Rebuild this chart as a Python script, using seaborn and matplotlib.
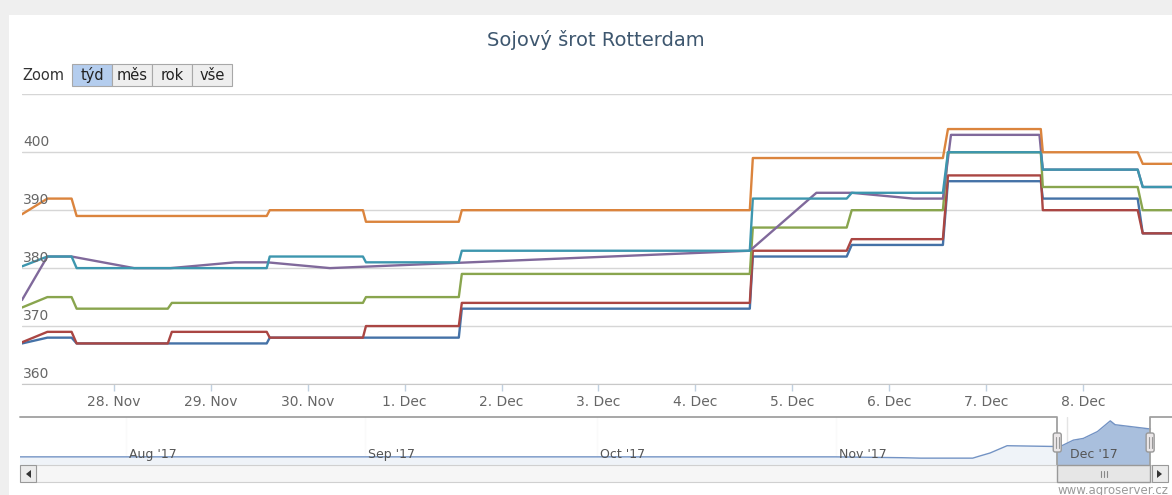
import matplotlib
matplotlib.use('Agg')
import matplotlib.pyplot as plt
import matplotlib.dates as mdates
import matplotlib.transforms as mtransforms
from matplotlib.patches import Rectangle, FancyBboxPatch, Polygon
from matplotlib.lines import Line2D
import pandas as pd
import seaborn as sns

# --- data ---
# moments where the five "step" series change (shared time axis)
step_times = ['2017-11-27 01:13', '2017-11-27 07:30', '2017-11-27 13:30', '2017-11-27 14:45',
              '2017-11-28 13:20', '2017-11-28 14:20', '2017-11-29 13:50', '2017-11-29 14:35',
              '2017-11-30 13:40', '2017-11-30 14:25', '2017-12-01 13:25', '2017-12-01 14:10',
              '2017-12-04 13:30', '2017-12-04 14:15', '2017-12-05 13:30', '2017-12-05 14:45',
              '2017-12-06 13:20', '2017-12-06 14:35', '2017-12-07 13:35', '2017-12-07 14:05',
              '2017-12-08 13:35', '2017-12-08 14:50', '2017-12-08 22:05']
blue = [367, 368, 368, 367, 367, 367, 367, 368, 368, 368, 368, 373, 373, 382, 382, 384, 384,
        395, 395, 392, 392, 386, 386]
red = [367.2, 369, 369, 367, 367, 369, 369, 368, 368, 370, 370, 374, 374, 383, 383, 385, 385,
       396, 396, 390, 390, 386, 386]
green = [373.2, 375, 375, 373, 373, 374, 374, 374, 374, 375, 375, 379, 379, 387, 387, 390, 390,
         400, 400, 394, 394, 390, 390]
teal = [380.3, 382, 382, 380, 380, 380, 380, 382, 382, 381, 381, 383, 383, 392, 392, 393, 393,
        400, 400, 397, 397, 394, 394]
orange = [389.3, 392, 392, 389, 389, 389, 389, 390, 390, 388, 388, 390, 390, 399, 399, 399, 399,
          404, 404, 400, 400, 398, 398]

# the purple series has its own time points
purple_times = ['2017-11-27 01:13', '2017-11-27 07:30', '2017-11-27 13:30', '2017-11-28 05:00',
                '2017-11-28 14:00', '2017-11-29 06:00', '2017-11-29 14:00', '2017-11-30 05:30',
                '2017-12-04 13:30', '2017-12-05 06:00', '2017-12-05 14:45', '2017-12-06 06:00',
                '2017-12-06 13:20', '2017-12-06 15:20', '2017-12-07 13:15', '2017-12-07 14:05',
                '2017-12-08 13:35', '2017-12-08 14:50', '2017-12-08 22:05']
purple = [374.5, 382, 382, 380, 380, 381, 381, 380, 383, 393, 393, 392, 392, 403, 403, 397,
          397, 394, 394]

y_ticks = [360, 370, 380, 390, 400, 410]

# navigator (overview) series
nav_times = ['2017-07-18 00:00', '2017-11-01 00:00', '2017-11-09 16:00', '2017-11-12 00:00',
             '2017-11-18 18:00', '2017-11-19 16:00', '2017-11-21 00:00', '2017-11-23 05:00',
             '2017-11-30 02:00', '2017-12-01 19:00', '2017-12-03 02:00', '2017-12-04 22:00',
             '2017-12-06 14:00', '2017-12-07 05:00', '2017-12-11 19:00']
nav_values = [354.5, 354.5, 353.5, 353, 353, 355.5, 359, 367.5, 366.5, 374, 376, 384, 396.5,
              392, 387]
nav_range = ('2017-07-18 06:00', '2017-12-14 14:00')
nav_selected = ('2017-11-29 17:00', '2017-12-11 18:00')

zoom_buttons = ['týd', 'měs', 'rok', 'vše']

# --- long table for seaborn ---
frames = []
for name, vals in [('blue', blue), ('red', red), ('green', green), ('teal', teal), ('orange', orange)]:
    frames.append(pd.DataFrame({'time': pd.to_datetime(step_times), 'price': vals, 'series': name}))
frames.append(pd.DataFrame({'time': pd.to_datetime(purple_times), 'price': purple, 'series': 'purple'}))
df = pd.concat(frames, ignore_index=True)

palette = {'blue': '#4572A7', 'red': '#AA4643', 'green': '#89A54E',
           'purple': '#80699B', 'teal': '#3D96AE', 'orange': '#DB843D'}
order = ['blue', 'red', 'green', 'purple', 'teal', 'orange']

sns.set_style('white')
plt.rcParams['font.family'] = ['DejaVu Sans']

W, H = 1172, 495
fig = plt.figure(figsize=(W / 100, H / 100), dpi=100)
fig.patch.set_facecolor('#efefef')


def px_rect(x, y, w, h, **kw):
    # rectangle given in picture pixels (y from the top)
    return Rectangle((x / W, 1 - (y + h) / H), w / W, h / H, transform=fig.transFigure, **kw)


fig.patches.append(px_rect(9, 15, W, H, facecolor='white', edgecolor='none', zorder=-5))

# --- main chart ---
ax = fig.add_axes([22 / W, 1 - 384 / H, 1 - 22 / W, (384 - 94.3) / H])
ax.set_facecolor('none')
sns.lineplot(data=df, x='time', y='price', hue='series', hue_order=order, palette=palette,
             estimator=None, sort=False, legend=False, linewidth=1.7, ax=ax)
for ln in ax.get_lines():
    ln.set_solid_joinstyle('round')

ax.set_xlim(pd.Timestamp(step_times[0]), pd.Timestamp(step_times[-1]))
ax.set_ylim(y_ticks[0], y_ticks[-1])
ax.set_yticks(y_ticks)
ax.yaxis.grid(True, color='#d6d6d6', lw=1)
ax.tick_params(axis='y', length=0, labelleft=False)
for v in y_ticks[:-1]:
    ax.annotate(str(v), xy=(0, v), xycoords=('axes fraction', 'data'), xytext=(1, 3),
                textcoords='offset pixels', ha='left', va='bottom', color='#666666', fontsize=10)

ax.xaxis.set_major_locator(mdates.DayLocator())
ax.xaxis.set_major_formatter(mdates.DateFormatter('%-d. %b'))
ax.tick_params(axis='x', length=5, width=1, color='#C0D0E0', labelcolor='#666666',
               labelsize=10, pad=3, bottom=True)
for side in ['left', 'right', 'top']:
    ax.spines[side].set_visible(False)
ax.spines['bottom'].set_color('#c8c8c8')
ax.set_xlabel('')
ax.set_ylabel('')

# title and zoom buttons
fig.text(596 / W, 1 - 40 / H, 'Sojový šrot Rotterdam', ha='center', va='center',
         fontsize=14, color='#3E576F')
fig.text(22 / W, 1 - 75 / H, 'Zoom', ha='left', va='center', fontsize=10.5, color='#333333')
for i, lab in enumerate(zoom_buttons):
    x0 = 72 + i * 40
    fc = '#b4cdee' if i == 0 else '#eeeeee'
    fig.patches.append(px_rect(x0, 64, 40, 22, facecolor=fc, edgecolor='#a8a8a8', lw=0.8))
    fig.text((x0 + 20) / W, 1 - 75 / H, lab, ha='center', va='center', fontsize=10.5, color='#222222')

# --- navigator ---
ax_nav = fig.add_axes([20 / W, 1 - 465 / H, 1 - 20 / W, 48 / H])
ax_nav.set_facecolor('none')
nt = pd.to_datetime(nav_times)
ax_nav.fill_between(nt, nav_values, 345, color='#A9BFDD', lw=0)
sns.lineplot(x=nt, y=nav_values, color='#7393c4', lw=1, ax=ax_nav)
ax_nav.set_xlim(pd.Timestamp(nav_range[0]), pd.Timestamp(nav_range[1]))
ax_nav.set_ylim(345, 401)
sel_a, sel_b = pd.Timestamp(nav_selected[0]), pd.Timestamp(nav_selected[1])
ax_nav.axvspan(pd.Timestamp(nav_range[0]), sel_a, color='white', alpha=0.82, lw=0)
ax_nav.axvspan(sel_b, pd.Timestamp(nav_range[1]), color='white', alpha=0.82, lw=0)

ax_nav.xaxis.set_major_locator(mdates.MonthLocator())
ax_nav.grid(axis='x', color='#e4e4e4', lw=1)
ax_nav.tick_params(axis='both', length=0, labelbottom=False, labelleft=False)
for s in ax_nav.spines.values():
    s.set_visible(False)
lo, hi = ax_nav.get_xlim()
for t in ax_nav.get_xticks():
    if lo <= t <= hi:
        ax_nav.annotate(mdates.num2date(t).strftime("%b '%y"), xy=(t, 0),
                        xycoords=('data', 'axes fraction'), xytext=(3, 4),
                        textcoords='offset pixels', ha='left', va='bottom',
                        fontsize=9, color='#555555')
ax_nav.set_xlabel('')
ax_nav.set_ylabel('')

xt = ax_nav.get_xaxis_transform()
ax_nav.plot([pd.Timestamp(nav_range[0]), sel_a, sel_a], [1, 1, 0], transform=xt,
            color='#a0a0a0', lw=1.3, clip_on=False)
ax_nav.plot([sel_b, sel_b, pd.Timestamp(nav_range[1])], [0, 1, 1], transform=xt,
            color='#a0a0a0', lw=1.3, clip_on=False)

# scrollbar
fig.patches.append(px_rect(36, 465, 1116, 17, facecolor='#f6f6f6', edgecolor='#d0d0d0', lw=0.8))
fig.canvas.draw()
xa = ax_nav.transData.transform((mdates.date2num(sel_a), 0))[0]
xb = ax_nav.transData.transform((mdates.date2num(sel_b), 0))[0]
fig.patches.append(px_rect(xa, 465, xb - xa, 17, facecolor='#e6e6e6', edgecolor='#999999', lw=1))
xm = (xa + xb) / 2
for dx in (-3, 0, 3):
    fig.lines.append(Line2D([(xm + dx) / W] * 2, [1 - 471 / H, 1 - 477 / H],
                            transform=fig.transFigure, color='#888888', lw=0.8))
for bx, pts in [(20, [(31, 470), (31, 478), (26, 474)]), (1152, [(1157, 470), (1157, 478), (1162, 474)])]:
    fig.patches.append(px_rect(bx, 465, 16, 17, facecolor='#ebebeb', edgecolor='#999999', lw=0.8))
    fig.patches.append(Polygon([(p[0] / W, 1 - p[1] / H) for p in pts], closed=True,
                               transform=fig.transFigure, facecolor='#333333', edgecolor='none'))

# navigator handles
for hx in (xa, xb):
    fig.patches.append(FancyBboxPatch((hx - 4, H - 452), 8, 19,
                                      boxstyle='round,pad=0,rounding_size=2',
                                      transform=mtransforms.IdentityTransform(),
                                      facecolor='#ebe7e8', edgecolor='#999999', lw=1, zorder=5))
    for dx in (-1.5, 1.5):
        fig.lines.append(Line2D([hx + dx] * 2, [H - 448, H - 437],
                                transform=mtransforms.IdentityTransform(),
                                color='#999999', lw=0.8, zorder=6))

fig.text(1168 / W, 1 - 484 / H, 'www.agroserver.cz', ha='right', va='top', fontsize=8.5,
         color='#9a9a9a')

fig.savefig('out.png', dpi=100, facecolor=fig.get_facecolor())
